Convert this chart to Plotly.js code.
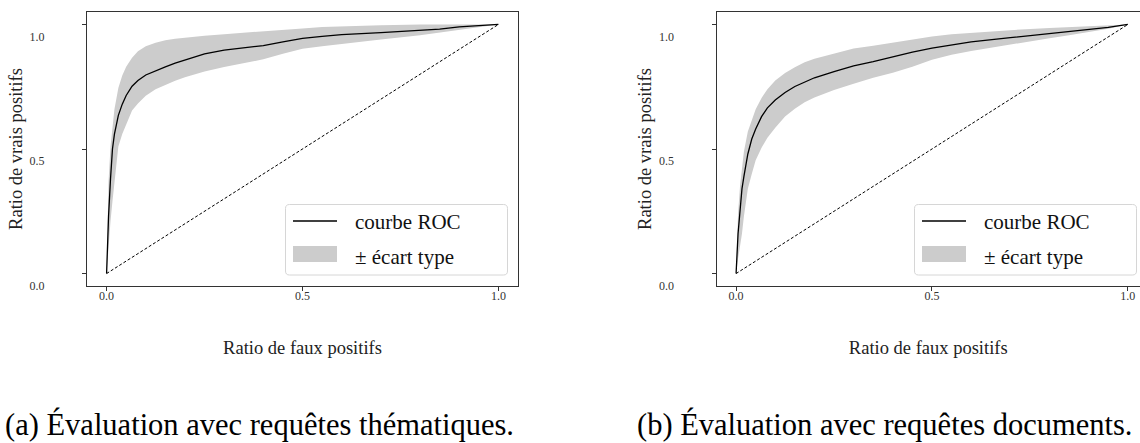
<!DOCTYPE html>
<html>
<head>
<meta charset="utf-8">
<script src="https://cdn.plot.ly/plotly-3.0.1.min.js"></script>
<style>html,body{margin:0;padding:0;background:#fff;}#chart{width:1140px;height:443px;}</style>
</head>
<body>
<div id="chart"></div>
<script>
// ---------- DATA ----------
const fpr = [0, 0.002, 0.005, 0.01, 0.015, 0.02, 0.03, 0.04, 0.05, 0.065, 0.08, 0.1, 0.125, 0.15, 0.175, 0.2, 0.25, 0.3, 0.35, 0.4, 0.45, 0.5, 0.55, 0.6, 0.7, 0.8, 0.85, 0.9, 0.95, 1.0];

// (a) thematic queries
const tprMeanA  = [0, 0.10, 0.23, 0.38, 0.50, 0.56, 0.635, 0.68, 0.715, 0.752, 0.775, 0.797, 0.815, 0.83, 0.845, 0.857, 0.882, 0.897, 0.907, 0.915, 0.93, 0.944, 0.952, 0.959, 0.967, 0.975, 0.981, 0.99, 0.995, 1.0];
const tprUpperA = [0, 0.20, 0.37, 0.51, 0.595, 0.66, 0.745, 0.795, 0.83, 0.866, 0.892, 0.912, 0.927, 0.937, 0.943, 0.948, 0.955, 0.961, 0.966, 0.971, 0.976, 0.984, 0.99, 0.993, 0.997, 1.0, 1.0, 1.0, 1.0, 1.0];
const tprLowerA = [0, 0.05, 0.11, 0.21, 0.29, 0.366, 0.51, 0.56, 0.60, 0.655, 0.683, 0.714, 0.74, 0.758, 0.774, 0.788, 0.811, 0.829, 0.844, 0.86, 0.882, 0.902, 0.913, 0.921, 0.94, 0.957, 0.968, 0.979, 0.989, 1.0];

// (b) document queries
const tprMeanB  = [0, 0.08, 0.16, 0.25, 0.34, 0.39, 0.48, 0.54, 0.58, 0.63, 0.665, 0.697, 0.727, 0.751, 0.77, 0.786, 0.811, 0.834, 0.851, 0.871, 0.889, 0.905, 0.919, 0.93, 0.947, 0.963, 0.971, 0.979, 0.988, 1.0];
const tprUpperB = [0, 0.14, 0.24, 0.35, 0.43, 0.49, 0.57, 0.62, 0.66, 0.705, 0.74, 0.775, 0.805, 0.828, 0.848, 0.862, 0.884, 0.903, 0.915, 0.928, 0.942, 0.952, 0.961, 0.967, 0.977, 0.986, 0.99, 0.994, 0.998, 1.0];
const tprLowerB = [0, 0.03, 0.06, 0.11, 0.16, 0.23, 0.34, 0.40, 0.455, 0.505, 0.545, 0.585, 0.63, 0.662, 0.688, 0.707, 0.737, 0.762, 0.786, 0.806, 0.83, 0.858, 0.878, 0.893, 0.92, 0.945, 0.957, 0.969, 0.983, 1.0];

const diagX = [0, 1];
const diagY = [0, 1];

const tickVals = [0, 0.5, 1.0];
const tickText = ["0.0", "0.5", "1.0"];

const seriesNames = ["courbe ROC", "\u00b1 \u00e9cart type"];
const xTitle = "Ratio de faux positifs";
const yTitle = "Ratio de vrais positifs";
const captions = ["(a) \u00c9valuation avec requ\u00eates th\u00e9matiques.", "(b) \u00c9valuation avec requ\u00eates documents."];

// ---------- STYLE ----------
const W = 1140, H = 443;
const FONT = "'Liberation Serif', 'DejaVu Serif', serif";
const BAND = "rgb(204,204,204)";
const px = v => v / W;
const py = v => 1 - v / H;

function panelTraces(xa, ya, mean, upper, lower) {
  return [
    {x: fpr, y: lower, xaxis: xa, yaxis: ya, mode: "lines", line: {width: 0, color: "rgba(0,0,0,0)"}, hoverinfo: "skip", showlegend: false},
    {x: fpr, y: upper, xaxis: xa, yaxis: ya, mode: "lines", fill: "tonexty", fillcolor: BAND, line: {width: 0, color: "rgba(0,0,0,0)"}, name: seriesNames[1], showlegend: false},
    {x: fpr, y: mean, xaxis: xa, yaxis: ya, mode: "lines", line: {color: "#000", width: 1.3}, name: seriesNames[0], showlegend: false},
    {x: diagX, y: diagY, xaxis: xa, yaxis: ya, mode: "lines", line: {color: "#000", width: 1, dash: "3px,2px"}, showlegend: false}
  ];
}

const data = [
  ...panelTraces("x", "y", tprMeanA, tprUpperA, tprLowerA),
  ...panelTraces("x2", "y2", tprMeanB, tprUpperB, tprLowerB)
];

const yDomain = [1 - 286 / H, 1 - 12 / H];

function xAxis(domain, range, mirror) {
  return {
    domain: domain, range: range, showgrid: false, zeroline: false,
    showline: true, linecolor: "#333", linewidth: 1, mirror: mirror,
    ticks: "outside", ticklen: 4, tickwidth: 1, tickcolor: "#333",
    tickvals: tickVals, ticktext: tickText,
    tickfont: {family: FONT, size: 12, color: "#333"},
    ticklabelstandoff: -5,
    title: {text: xTitle, font: {family: FONT, size: 18.5, color: "#222"}, standoff: 38},
    fixedrange: true
  };
}
function yAxis(anchor, mirror) {
  return {
    domain: yDomain, range: [-0.05, 1.05], anchor: anchor, showgrid: false, zeroline: false,
    showline: true, linecolor: "#333", linewidth: 1, mirror: mirror,
    ticks: "outside", ticklen: 4, tickwidth: 1, tickcolor: "#333",
    tickvals: tickVals, ticktext: tickText,
    tickfont: {family: FONT, size: 12, color: "#333"},
    ticklabelstandoff: 35, ticklabelshift: 12,
    title: {text: yTitle, font: {family: FONT, size: 18.5, color: "#222"}, standoff: 2},
    fixedrange: true
  };
}

// custom legend boxes
const shapes = [];
const annotations = [];
function roundRect(x0, y0, x1, y1, r) {
  const X = v => px(v).toFixed(5), Y = v => py(v).toFixed(5);
  return `M${X(x0 + r)},${Y(y0)} L${X(x1 - r)},${Y(y0)} Q${X(x1)},${Y(y0)} ${X(x1)},${Y(y0 + r)} ` +
         `L${X(x1)},${Y(y1 - r)} Q${X(x1)},${Y(y1)} ${X(x1 - r)},${Y(y1)} L${X(x0 + r)},${Y(y1)} ` +
         `Q${X(x0)},${Y(y1)} ${X(x0)},${Y(y1 - r)} L${X(x0)},${Y(y0 + r)} Q${X(x0)},${Y(y0)} ${X(x0 + r)},${Y(y0)} Z`;
}
[0, 629].forEach(dx => {
  shapes.push({type: "path", xref: "paper", yref: "paper", path: roundRect(285.5 + dx, 204.5, 507.5 + dx, 275, 4),
               line: {color: "#d6d6d6", width: 1}, fillcolor: "rgba(255,255,255,0.8)"});
  shapes.push({type: "line", xref: "paper", yref: "paper", x0: px(293 + dx), x1: px(337 + dx), y0: py(221), y1: py(221),
               line: {color: "#000", width: 1.3}});
  shapes.push({type: "rect", xref: "paper", yref: "paper", x0: px(293 + dx), x1: px(337 + dx), y0: py(246), y1: py(262),
               line: {width: 0}, fillcolor: BAND});
  annotations.push({xref: "paper", yref: "paper", x: px(353 + dx), y: py(222), xanchor: "left", yanchor: "middle",
                    text: seriesNames[0], showarrow: false, font: {family: FONT, size: 21, color: "#111"}});
  annotations.push({xref: "paper", yref: "paper", x: px(353 + dx), y: py(257), xanchor: "left", yanchor: "middle",
                    text: seriesNames[1], showarrow: false, font: {family: FONT, size: 21, color: "#111"}});
});
// captions
annotations.push({xref: "paper", yref: "paper", x: px(259), y: py(424), xanchor: "center", yanchor: "middle",
                  text: captions[0], showarrow: false, font: {family: FONT, size: 30.5, color: "#000"}});
annotations.push({xref: "paper", yref: "paper", x: px(884.5), y: py(424), xanchor: "center", yanchor: "middle",
                  text: captions[1], showarrow: false, font: {family: FONT, size: 30.5, color: "#000"}});

const layout = {
  width: W, height: H,
  margin: {l: 0, r: 0, t: 0, b: 0, pad: 0},
  paper_bgcolor: "#fff", plot_bgcolor: "#fff",
  showlegend: false,
  xaxis: xAxis([87 / W, 518 / W], [-0.05, 1.05], true),
  yaxis: yAxis("x", true),
  xaxis2: xAxis([716.5 / W, 1], [-0.05, 1.031], true),
  yaxis2: yAxis("x2", false),
  shapes: shapes,
  annotations: annotations
};
layout.xaxis2.anchor = "y2";

Plotly.newPlot("chart", data, layout, {staticPlot: true, displayModeBar: false});
</script>
</body>
</html>
